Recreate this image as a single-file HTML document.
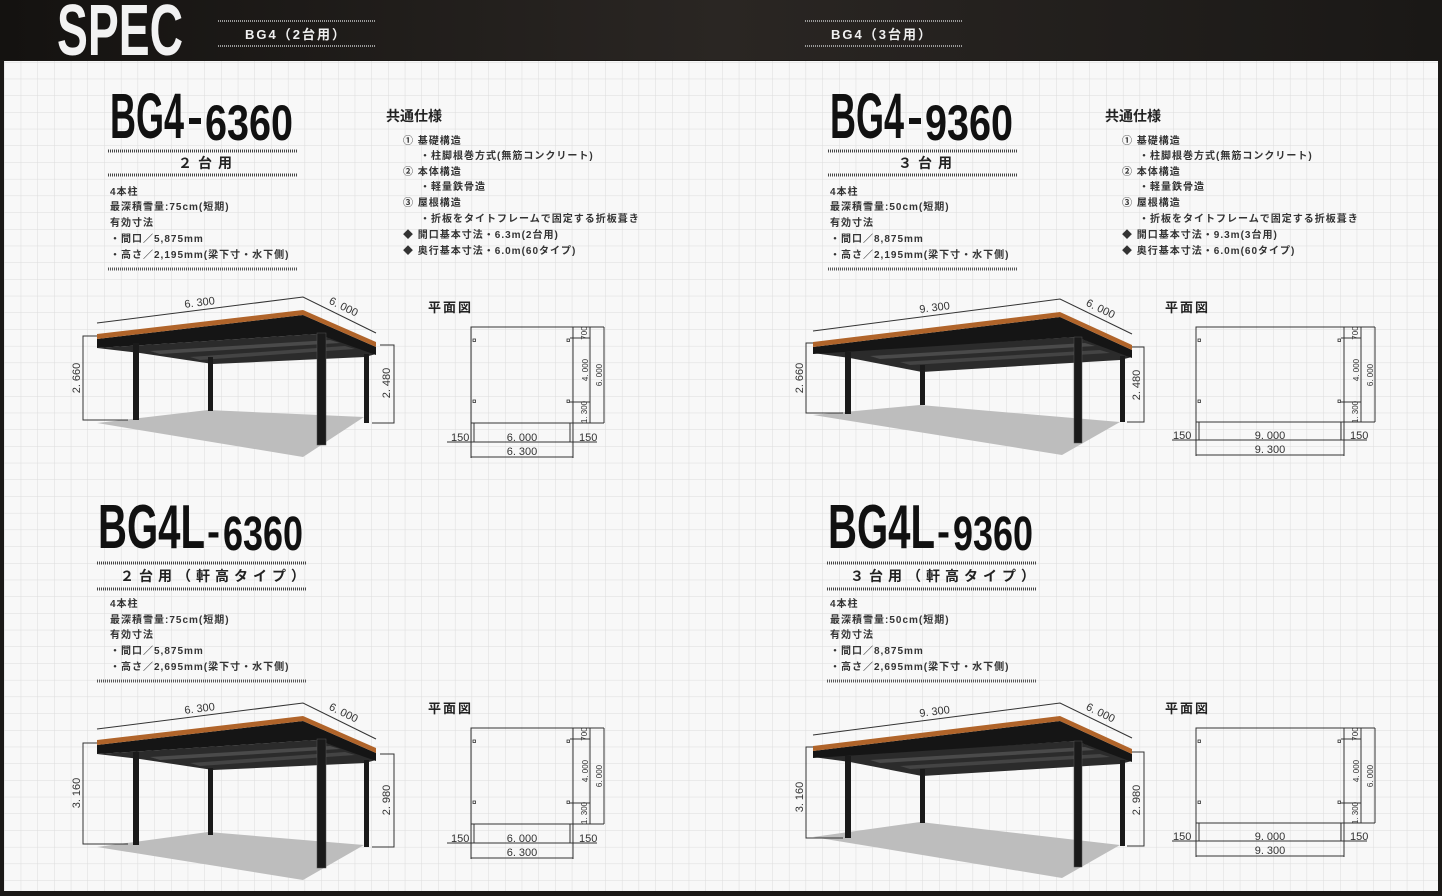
<!DOCTYPE html>
<html><head><meta charset="utf-8"><style>
html,body{margin:0;padding:0;background:#1b1917;}
svg{display:block}
.t{font-family:"Liberation Sans","Noto Sans CJK JP",sans-serif;fill:#222;}
.b{font-weight:bold}
.n{font-family:"Liberation Sans Narrow","Liberation Sans",sans-serif;font-weight:bold;fill:#111;}
.d{font-family:"Liberation Sans Narrow","Liberation Sans",sans-serif;fill:#333;font-size:11px;}
.ds{font-family:"Liberation Sans Narrow","Liberation Sans",sans-serif;fill:#333;font-size:8px;}
.dl{stroke:#333;stroke-width:1;fill:none}
.i{font-weight:bold;fill:#333}
</style></head><body>
<svg width="1442" height="896" viewBox="0 0 1442 896" xmlns="http://www.w3.org/2000/svg">
<defs>
<pattern id="g" width="16.7" height="16.7" patternUnits="userSpaceOnUse" x="4" y="62">
<rect width="16.7" height="16.7" fill="#f8f8f8"/>
<path d="M0 0H16.7M0 0V16.7" stroke="#dcdcdc" stroke-width="1"/>
</pattern>
<linearGradient id="hd" x1="0" y1="0" x2="1" y2="0">
<stop offset="0" stop-color="#141210"/><stop offset="0.5" stop-color="#2a2623"/><stop offset="1" stop-color="#1a1816"/>
</linearGradient>
</defs>
<rect width="1442" height="896" fill="#1b1917"/>
<rect x="0" y="0" width="1442" height="60" fill="url(#hd)"/>
<rect x="4" y="61" width="1434" height="830" fill="url(#g)"/>

<!-- header -->
<text x="57" y="55" class="n" font-size="72" style="fill:#f2f2f2" textLength="126" lengthAdjust="spacingAndGlyphs">SPEC</text>
<line x1="218" y1="21" x2="375" y2="21" stroke="#999" stroke-width="2" stroke-dasharray="1 1"/>
<line x1="218" y1="46" x2="375" y2="46" stroke="#999" stroke-width="2" stroke-dasharray="1 1"/>
<text x="245" y="39" class="t b" font-size="13" style="fill:#f0f0f0" letter-spacing="2">BG4（2台用）</text>
<line x1="805" y1="21" x2="962" y2="21" stroke="#999" stroke-width="2" stroke-dasharray="1 1"/>
<line x1="805" y1="46" x2="962" y2="46" stroke="#999" stroke-width="2" stroke-dasharray="1 1"/>
<text x="831" y="39" class="t b" font-size="13" style="fill:#f0f0f0" letter-spacing="2">BG4（3台用）</text>

<!-- ===== Q1 text ===== -->
<text x="110" y="138" class="n" font-size="64" textLength="74" lengthAdjust="spacingAndGlyphs">BG4</text>
<rect x="189" y="118" width="12" height="6" fill="#111"/>
<text x="205" y="140" class="n" font-size="50" textLength="88" lengthAdjust="spacingAndGlyphs">6360</text>
<line x1="108" y1="151" x2="297" y2="151" stroke="#444" stroke-width="3" stroke-dasharray="1 1"/>
<text x="208" y="168" class="t b" font-size="14" text-anchor="middle" letter-spacing="6">２台用</text>
<line x1="108" y1="175" x2="297" y2="175" stroke="#444" stroke-width="3" stroke-dasharray="1 1"/>
<g class="t i" font-size="10" letter-spacing="1">
<text x="110" y="195">4本柱</text>
<text x="110" y="210">最深積雪量:75cm(短期)</text>
<text x="110" y="226">有効寸法</text>
<text x="110" y="242">・間口／5,875mm</text>
<text x="110" y="258">・高さ／2,195mm(梁下寸・水下側)</text>
</g>
<line x1="108" y1="269" x2="297" y2="269" stroke="#555" stroke-width="3" stroke-dasharray="1 1"/>
<text x="386" y="121" class="t b" font-size="14">共通仕様</text>
<g class="t i" font-size="10" letter-spacing="1">
<text x="403" y="144">① 基礎構造</text>
<text x="420" y="159">・柱脚根巻方式(無筋コンクリート)</text>
<text x="403" y="175">② 本体構造</text>
<text x="420" y="190">・軽量鉄骨造</text>
<text x="403" y="206">③ 屋根構造</text>
<text x="420" y="222">・折板をタイトフレームで固定する折板葺き</text>
<text x="403" y="238">◆ 開口基本寸法・6.3m(2台用)</text>
<text x="403" y="254">◆ 奥行基本寸法・6.0m(60タイプ)</text>
</g>

<!-- ===== Q2 text ===== -->
<text x="830" y="138" class="n" font-size="64" textLength="74" lengthAdjust="spacingAndGlyphs">BG4</text>
<rect x="909" y="118" width="12" height="6" fill="#111"/>
<text x="925" y="140" class="n" font-size="50" textLength="88" lengthAdjust="spacingAndGlyphs">9360</text>
<line x1="828" y1="151" x2="1017" y2="151" stroke="#444" stroke-width="3" stroke-dasharray="1 1"/>
<text x="928" y="168" class="t b" font-size="14" text-anchor="middle" letter-spacing="6">３台用</text>
<line x1="828" y1="175" x2="1017" y2="175" stroke="#444" stroke-width="3" stroke-dasharray="1 1"/>
<g class="t i" font-size="10" letter-spacing="1">
<text x="830" y="195">4本柱</text>
<text x="830" y="210">最深積雪量:50cm(短期)</text>
<text x="830" y="226">有効寸法</text>
<text x="830" y="242">・間口／8,875mm</text>
<text x="830" y="258">・高さ／2,195mm(梁下寸・水下側)</text>
</g>
<line x1="828" y1="269" x2="1017" y2="269" stroke="#555" stroke-width="3" stroke-dasharray="1 1"/>
<text x="1105" y="121" class="t b" font-size="14">共通仕様</text>
<g class="t i" font-size="10" letter-spacing="1">
<text x="1122" y="144">① 基礎構造</text>
<text x="1139" y="159">・柱脚根巻方式(無筋コンクリート)</text>
<text x="1122" y="175">② 本体構造</text>
<text x="1139" y="190">・軽量鉄骨造</text>
<text x="1122" y="206">③ 屋根構造</text>
<text x="1139" y="222">・折板をタイトフレームで固定する折板葺き</text>
<text x="1122" y="238">◆ 開口基本寸法・9.3m(3台用)</text>
<text x="1122" y="254">◆ 奥行基本寸法・6.0m(60タイプ)</text>
</g>

<!-- ===== Q3 text ===== -->
<text x="98" y="548" class="n" font-size="62" textLength="107" lengthAdjust="spacingAndGlyphs">BG4L</text>
<text x="207" y="546" class="n" font-size="44" textLength="13" lengthAdjust="spacingAndGlyphs">-</text>
<text x="223" y="550" class="n" font-size="48" textLength="80" lengthAdjust="spacingAndGlyphs">6360</text>
<line x1="97" y1="563" x2="306" y2="563" stroke="#444" stroke-width="3" stroke-dasharray="1 1"/>
<text x="120" y="581" class="t b" font-size="14" letter-spacing="5">２台用（軒高タイプ）</text>
<line x1="97" y1="589" x2="306" y2="589" stroke="#444" stroke-width="3" stroke-dasharray="1 1"/>
<g class="t i" font-size="10" letter-spacing="1">
<text x="110" y="607">4本柱</text>
<text x="110" y="623">最深積雪量:75cm(短期)</text>
<text x="110" y="638">有効寸法</text>
<text x="110" y="654">・間口／5,875mm</text>
<text x="110" y="670">・高さ／2,695mm(梁下寸・水下側)</text>
</g>
<line x1="97" y1="681" x2="306" y2="681" stroke="#555" stroke-width="3" stroke-dasharray="1 1"/>

<!-- ===== Q4 text ===== -->
<text x="828" y="548" class="n" font-size="62" textLength="107" lengthAdjust="spacingAndGlyphs">BG4L</text>
<text x="937" y="546" class="n" font-size="44" textLength="13" lengthAdjust="spacingAndGlyphs">-</text>
<text x="953" y="550" class="n" font-size="48" textLength="80" lengthAdjust="spacingAndGlyphs">9360</text>
<line x1="827" y1="563" x2="1036" y2="563" stroke="#444" stroke-width="3" stroke-dasharray="1 1"/>
<text x="850" y="581" class="t b" font-size="14" letter-spacing="5">３台用（軒高タイプ）</text>
<line x1="827" y1="589" x2="1036" y2="589" stroke="#444" stroke-width="3" stroke-dasharray="1 1"/>
<g class="t i" font-size="10" letter-spacing="1">
<text x="830" y="607">4本柱</text>
<text x="830" y="623">最深積雪量:50cm(短期)</text>
<text x="830" y="638">有効寸法</text>
<text x="830" y="654">・間口／8,875mm</text>
<text x="830" y="670">・高さ／2,695mm(梁下寸・水下側)</text>
</g>
<line x1="827" y1="681" x2="1036" y2="681" stroke="#555" stroke-width="3" stroke-dasharray="1 1"/>

<!-- ===== Q1 carport ===== -->
<polygon points="97,423 208,410 364,417 303,457" fill="#bdbdbd"/>
<g>
<polyline class="dl" points="97,323 303,297 376,333"/>
<text x="200" y="306" class="d" text-anchor="middle" transform="rotate(-7.2 200 306)">6. 300</text>
<text x="342" y="310" class="d" text-anchor="middle" transform="rotate(26 342 310)">6. 000</text>
<polygon points="97,348 317,334 376,354 365,357 213,364 140,353" fill="#2b2b2b"/>
<polygon points="150,351 330,340 340,343 160,354" fill="#4a4a4a"/>
<polygon points="190,357 345,346 355,349 200,360" fill="#444"/>
<polygon points="97,339 303,315 376,347 376,355 317,334 97,348" fill="#151515"/>
<polygon points="97,334 303,310 376,342 376,347 303,315 97,339" fill="#b0642a"/>
</g>
<rect x="133" y="343" width="6" height="77" fill="#1a1a1a"/>
<rect x="208" y="357" width="5" height="54" fill="#1a1a1a"/>
<rect x="317" y="333" width="9" height="112" fill="#1a1a1a" stroke="#555" stroke-width="0.5"/>
<rect x="364" y="354" width="5" height="69" fill="#1a1a1a"/>
<polyline class="dl" points="128,420 83,420 83,336 97,336"/>
<text x="80" y="378" class="d" font-size="12" text-anchor="middle" transform="rotate(-90 80 378)">2. 660</text>
<polyline class="dl" points="380,345 394,345 394,423 372,423"/>
<text x="390" y="383" class="d" font-size="12" text-anchor="middle" transform="rotate(-90 390 383)">2. 480</text>

<!-- ===== Q3 carport ===== -->
<polygon points="97,847 208,832 364,845 303,880" fill="#bdbdbd"/>
<g transform="translate(0,406)">
<polyline class="dl" points="97,323 303,297 376,333"/>
<text x="200" y="306" class="d" text-anchor="middle" transform="rotate(-7.2 200 306)">6. 300</text>
<text x="342" y="310" class="d" text-anchor="middle" transform="rotate(26 342 310)">6. 000</text>
<polygon points="97,348 317,334 376,354 365,357 213,364 140,353" fill="#2b2b2b"/>
<polygon points="150,351 330,340 340,343 160,354" fill="#4a4a4a"/>
<polygon points="190,357 345,346 355,349 200,360" fill="#444"/>
<polygon points="97,339 303,315 376,347 376,355 317,334 97,348" fill="#151515"/>
<polygon points="97,334 303,310 376,342 376,347 303,315 97,339" fill="#b0642a"/>
</g>
<rect x="133" y="752" width="6" height="93" fill="#1a1a1a"/>
<rect x="208" y="768" width="5" height="67" fill="#1a1a1a"/>
<rect x="317" y="739" width="9" height="129" fill="#1a1a1a" stroke="#555" stroke-width="0.5"/>
<rect x="364" y="760" width="5" height="87" fill="#1a1a1a"/>
<polyline class="dl" points="128,844 83,844 83,743 97,743"/>
<text x="80" y="793" class="d" font-size="12" text-anchor="middle" transform="rotate(-90 80 793)">3. 160</text>
<polyline class="dl" points="380,754 394,754 394,847 372,847"/>
<text x="390" y="800" class="d" font-size="12" text-anchor="middle" transform="rotate(-90 390 800)">2. 980</text>

<!-- ===== Q2 carport ===== -->
<polygon points="813,415 920,405 1120,422 1062,455" fill="#bdbdbd"/>
<g>
<polyline class="dl" points="813,331 1060,299 1132,334"/>
<text x="935" y="311" class="d" text-anchor="middle" transform="rotate(-7.4 935 311)">9. 300</text>
<text x="1099" y="312" class="d" text-anchor="middle" transform="rotate(26 1099 312)">6. 000</text>
<polygon points="813,353 1076,337 1132,357 1120,360 922,372 850,358" fill="#2b2b2b"/>
<polygon points="870,356 1085,343 1095,346 880,359" fill="#4a4a4a"/>
<polygon points="900,362 1100,350 1110,353 910,365" fill="#444"/>
<polygon points="813,347 1060,317 1132,350 1132,358 1076,337 813,354" fill="#151515"/>
<polygon points="813,342 1060,312 1132,345 1132,350 1060,317 813,347" fill="#b0642a"/>
</g>
<rect x="845" y="352" width="6" height="62" fill="#1a1a1a"/>
<rect x="920" y="365" width="5" height="40" fill="#1a1a1a"/>
<rect x="1074" y="337" width="8" height="106" fill="#1a1a1a" stroke="#555" stroke-width="0.5"/>
<rect x="1120" y="356" width="5" height="66" fill="#1a1a1a"/>
<polyline class="dl" points="843,413 806,413 806,343 813,343"/>
<text x="803" y="378" class="d" font-size="12" text-anchor="middle" transform="rotate(-90 803 378)">2. 660</text>
<polyline class="dl" points="1132,347 1144,347 1144,422 1127,422"/>
<text x="1140" y="385" class="d" font-size="12" text-anchor="middle" transform="rotate(-90 1140 385)">2. 480</text>

<!-- ===== Q4 carport ===== -->
<polygon points="813,837 920,822 1120,845 1062,878" fill="#bdbdbd"/>
<g transform="translate(0,404)">
<polyline class="dl" points="813,331 1060,299 1132,334"/>
<text x="935" y="311" class="d" text-anchor="middle" transform="rotate(-7.4 935 311)">9. 300</text>
<text x="1099" y="312" class="d" text-anchor="middle" transform="rotate(26 1099 312)">6. 000</text>
<polygon points="813,353 1076,337 1132,357 1120,360 922,372 850,358" fill="#2b2b2b"/>
<polygon points="870,356 1085,343 1095,346 880,359" fill="#4a4a4a"/>
<polygon points="900,362 1100,350 1110,353 910,365" fill="#444"/>
<polygon points="813,347 1060,317 1132,350 1132,358 1076,337 813,354" fill="#151515"/>
<polygon points="813,342 1060,312 1132,345 1132,350 1060,317 813,347" fill="#b0642a"/>
</g>
<rect x="845" y="756" width="6" height="82" fill="#1a1a1a"/>
<rect x="920" y="769" width="5" height="54" fill="#1a1a1a"/>
<rect x="1074" y="741" width="8" height="126" fill="#1a1a1a" stroke="#555" stroke-width="0.5"/>
<rect x="1120" y="760" width="5" height="86" fill="#1a1a1a"/>
<polyline class="dl" points="843,838 806,838 806,747 813,747"/>
<text x="803" y="797" class="d" font-size="12" text-anchor="middle" transform="rotate(-90 803 797)">3. 160</text>
<polyline class="dl" points="1132,752 1144,752 1144,846 1127,846"/>
<text x="1140" y="800" class="d" font-size="12" text-anchor="middle" transform="rotate(-90 1140 800)">2. 980</text>

<!-- ===== Plans ===== -->
<g>
<text x="428" y="312" class="t b" font-size="13" letter-spacing="2">平面図</text>
<rect x="471" y="327" width="102" height="96" class="dl"/>
<g fill="none" stroke="#333" stroke-width="0.8">
<rect x="473" y="339" width="2.5" height="2.5"/><rect x="567" y="339" width="2.5" height="2.5"/>
<rect x="473" y="400" width="2.5" height="2.5"/><rect x="567" y="400" width="2.5" height="2.5"/>
</g>
<path class="dl" d="M573 327H604M570 338H590M570 402H590M573 423H604M590 327V423M604 327V423M447 442H597M471 457H573M471 423V442M474 423V442M570 423V442M573 423V442M471 442V458M573 442V458"/>
<text x="451" y="441" class="d" font-size="11">150</text>
<text x="522" y="441" class="d" text-anchor="middle">6. 000</text>
<text x="579" y="441" class="d" font-size="11">150</text>
<text x="522" y="455" class="d" text-anchor="middle">6. 300</text>
<text x="587" y="333" class="ds" text-anchor="middle" transform="rotate(-90 587 333)">700</text>
<text x="588" y="370" class="ds" font-size="10" text-anchor="middle" transform="rotate(-90 588 370)">4. 000</text>
<text x="587" y="412" class="ds" text-anchor="middle" transform="rotate(-90 587 412)">1. 300</text>
<text x="602" y="375" class="ds" font-size="10" text-anchor="middle" transform="rotate(-90 602 375)">6. 000</text>
</g>
<g transform="translate(0,401)">
<text x="428" y="312" class="t b" font-size="13" letter-spacing="2">平面図</text>
<rect x="471" y="327" width="102" height="96" class="dl"/>
<g fill="none" stroke="#333" stroke-width="0.8">
<rect x="473" y="339" width="2.5" height="2.5"/><rect x="567" y="339" width="2.5" height="2.5"/>
<rect x="473" y="400" width="2.5" height="2.5"/><rect x="567" y="400" width="2.5" height="2.5"/>
</g>
<path class="dl" d="M573 327H604M570 338H590M570 402H590M573 423H604M590 327V423M604 327V423M447 442H597M471 457H573M471 423V442M474 423V442M570 423V442M573 423V442M471 442V458M573 442V458"/>
<text x="451" y="441" class="d" font-size="11">150</text>
<text x="522" y="441" class="d" text-anchor="middle">6. 000</text>
<text x="579" y="441" class="d" font-size="11">150</text>
<text x="522" y="455" class="d" text-anchor="middle">6. 300</text>
<text x="587" y="333" class="ds" text-anchor="middle" transform="rotate(-90 587 333)">700</text>
<text x="588" y="370" class="ds" font-size="10" text-anchor="middle" transform="rotate(-90 588 370)">4. 000</text>
<text x="587" y="412" class="ds" text-anchor="middle" transform="rotate(-90 587 412)">1. 300</text>
<text x="602" y="375" class="ds" font-size="10" text-anchor="middle" transform="rotate(-90 602 375)">6. 000</text>
</g>
<g>
<text x="1165" y="312" class="t b" font-size="13" letter-spacing="2">平面図</text>
<rect x="1196" y="327" width="148" height="95" class="dl"/>
<g fill="none" stroke="#333" stroke-width="0.8">
<rect x="1198" y="339" width="2.5" height="2.5"/><rect x="1338" y="339" width="2.5" height="2.5"/>
<rect x="1198" y="400" width="2.5" height="2.5"/><rect x="1338" y="400" width="2.5" height="2.5"/>
</g>
<path class="dl" d="M1344 327H1375M1341 338H1361M1341 402H1361M1344 422H1375M1361 327V422M1375 327V422M1172 440H1367M1196 455H1344M1196 422V440M1199 422V440M1341 422V440M1344 422V440M1196 440V456M1344 440V456"/>
<text x="1173" y="439" class="d" font-size="11">150</text>
<text x="1270" y="439" class="d" text-anchor="middle">9. 000</text>
<text x="1350" y="439" class="d" font-size="11">150</text>
<text x="1270" y="453" class="d" text-anchor="middle">9. 300</text>
<text x="1358" y="333" class="ds" text-anchor="middle" transform="rotate(-90 1358 333)">700</text>
<text x="1359" y="370" class="ds" font-size="10" text-anchor="middle" transform="rotate(-90 1359 370)">4. 000</text>
<text x="1358" y="412" class="ds" text-anchor="middle" transform="rotate(-90 1358 412)">1. 300</text>
<text x="1373" y="375" class="ds" font-size="10" text-anchor="middle" transform="rotate(-90 1373 375)">6. 000</text>
</g>
<g transform="translate(0,401)">
<text x="1165" y="312" class="t b" font-size="13" letter-spacing="2">平面図</text>
<rect x="1196" y="327" width="148" height="95" class="dl"/>
<g fill="none" stroke="#333" stroke-width="0.8">
<rect x="1198" y="339" width="2.5" height="2.5"/><rect x="1338" y="339" width="2.5" height="2.5"/>
<rect x="1198" y="400" width="2.5" height="2.5"/><rect x="1338" y="400" width="2.5" height="2.5"/>
</g>
<path class="dl" d="M1344 327H1375M1341 338H1361M1341 402H1361M1344 422H1375M1361 327V422M1375 327V422M1172 440H1367M1196 455H1344M1196 422V440M1199 422V440M1341 422V440M1344 422V440M1196 440V456M1344 440V456"/>
<text x="1173" y="439" class="d" font-size="11">150</text>
<text x="1270" y="439" class="d" text-anchor="middle">9. 000</text>
<text x="1350" y="439" class="d" font-size="11">150</text>
<text x="1270" y="453" class="d" text-anchor="middle">9. 300</text>
<text x="1358" y="333" class="ds" text-anchor="middle" transform="rotate(-90 1358 333)">700</text>
<text x="1359" y="370" class="ds" font-size="10" text-anchor="middle" transform="rotate(-90 1359 370)">4. 000</text>
<text x="1358" y="412" class="ds" text-anchor="middle" transform="rotate(-90 1358 412)">1. 300</text>
<text x="1373" y="375" class="ds" font-size="10" text-anchor="middle" transform="rotate(-90 1373 375)">6. 000</text>
</g>
</svg>
</body></html>
